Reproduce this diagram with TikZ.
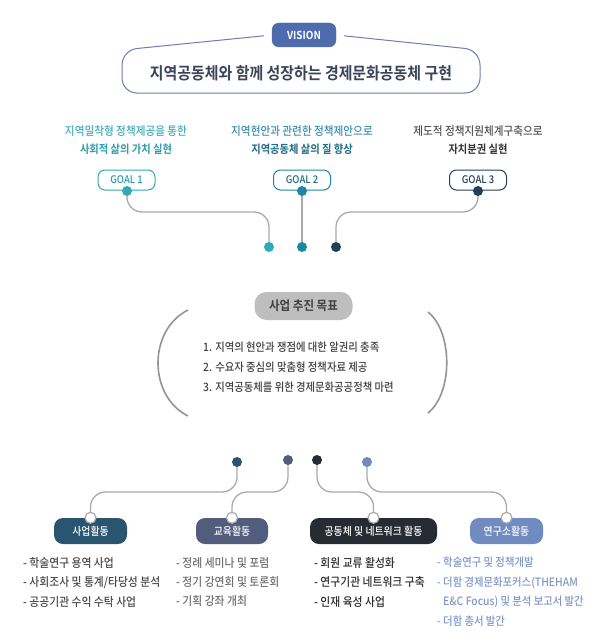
\documentclass[tikz,border=0pt]{standalone}
\usepackage{fontspec}
\setmainfont{Noto Sans CJK KR}[FakeStretch=0.9, UprightFont=* Medium, BoldFont=* Bold]
\usetikzlibrary{backgrounds,calc}
\definecolor{visionblue}{HTML}{4F6BAE}
\definecolor{visionline}{HTML}{6A7FAF}
\definecolor{titlec}{HTML}{3B4459}
\definecolor{goalAa}{HTML}{45AEBB}
\definecolor{goalAb}{HTML}{2C9DAB}
\definecolor{goalAc}{HTML}{33A8B6}
\definecolor{goalBa}{HTML}{3C8FB0}
\definecolor{goalBb}{HTML}{1E6C88}
\definecolor{goalBc}{HTML}{1E87A5}
\definecolor{goalCa}{HTML}{555555}
\definecolor{goalCb}{HTML}{333333}
\definecolor{goalCc}{HTML}{243F58}
\definecolor{connc}{HTML}{AAAAAA}
\definecolor{midfill}{HTML}{BEBEBE}
\definecolor{actA}{HTML}{2A5570}
\definecolor{actB}{HTML}{525C7C}
\definecolor{actC}{HTML}{272B33}
\definecolor{actD}{HTML}{6F8BC0}
\definecolor{txtA}{HTML}{4A4A4A}
\definecolor{txtB}{HTML}{707070}
\definecolor{txtC}{HTML}{2E2E2E}
\definecolor{txtD}{HTML}{8098C8}
\tikzset{
  visionpill/.style={fill=visionblue, draw=visionblue, rounded corners=7pt, minimum width=64pt, minimum height=24pt, inner sep=0pt, text=white, font=\fontsize{11}{12}\selectfont\bfseries},
  goaltxt/.style={inner sep=0pt, font=\fontsize{11.8}{13}\selectfont},
  goalbold/.style={inner sep=0pt, font=\fontsize{11.4}{13}\selectfont\bfseries},
  goalpill/.style={fill=white, line width=1pt, rounded corners=7pt, minimum width=57pt, minimum height=20pt, inner sep=0pt, font=\fontsize{10.5}{11}\selectfont},
  gdot/.style={circle, minimum size=10pt, inner sep=0pt},
  conn/.style={draw=connc, line width=1.3pt, rounded corners=15pt},
  midpill/.style={fill=midfill, rounded corners=12pt, minimum width=98pt, minimum height=28pt, inner sep=0pt, text=black!75, font=\fontsize{12.8}{14}\selectfont\bfseries},
  listtxt/.style={inner sep=0pt, anchor=west, text=black!74, font=\fontsize{11.5}{13}\selectfont},
  actpill/.style={rounded corners=9pt, minimum height=26pt, inner sep=0pt, text=white, font=\fontsize{11}{12}\selectfont},
  ring/.style={circle, fill=white, draw=connc, line width=1.2pt, minimum size=11pt, inner sep=0pt},
  bullets/.style={inner sep=0pt, anchor=north west, align=left, font=\fontsize{12}{19.4}\selectfont},
}
\begin{document}
\begin{tikzpicture}[x=1pt,y=-1pt]
\begin{scope}[on background layer]
\fill[white] (0,0) rectangle (600,642);
\end{scope}
\useasboundingbox (0,0) rectangle (600,642);
% ---- vision ----
\node[visionpill] (vision) at (304,35) {VISION};
\draw[draw=visionline, line width=1pt, rounded corners=15pt, shorten <=8pt, shorten >=8pt]
  (vision.west) -- (122,50) -- (122,93) -- (480,93) -- (480,50) -- (vision.east);
\node[inner sep=0pt, text=titlec, font=\fontsize{16.6}{18}\selectfont\bfseries] (title) at (301,73) {지역공동체와 함께 성장하는 경제문화공동체 구현};
% ---- goals ----
\node[goaltxt, text=goalAa] (g1a) at (126,131) {지역밀착형 정책제공을 통한};
\node[goalbold, text=goalAb] (g1b) at (126,149) {사회적 삶의 가치 실현};
\node[goaltxt, text=goalBa] (g2a) at (302,131) {지역현안과 관련한 정책제안으로};
\node[goalbold, text=goalBb] (g2b) at (302,149) {지역공동체 삶의 질 향상};
\node[goaltxt, text=goalCa] (g3a) at (478,131) {제도적 정책지원체계구축으로};
\node[goalbold, text=goalCb] (g3b) at (478,149) {자치분권 실현};
\node[goalpill, draw=goalAc, text=goalAb] (G1) at (126.5,180) {GOAL 1};
\node[goalpill, draw=goalBc, text=goalBb] (G2) at (302,180) {GOAL 2};
\node[goalpill, draw=goalCc, text=goalCc] (G3) at (478,180) {GOAL 3};
\node[gdot, fill=goalAc] (d1) at (127,191) {};
\node[gdot, fill=goalBc] (d2) at (302,191) {};
\node[gdot, fill=goalCc] (d3) at (478,191) {};
\node[gdot, fill=goalAc] (e1) at (269,247) {};
\node[gdot, fill=goalBc] (e2) at (302,247) {};
\node[gdot, fill=goalCc] (e3) at (336,247) {};
\coordinate (hA) at (0,212);
\begin{scope}[on background layer]
\draw[conn] (d1.center) |- (hA -| e1) -- (e1.center);
\draw[conn] (d2.center) -- (e2.center);
\draw[conn] (d3.center) |- (hA -| e3) -- (e3.center);
\end{scope}
% ---- middle ----
\node[midpill] (mid) at (303.5,306) {사업 추진 목표};
\coordinate (lt) at (188,310);
\coordinate (lb) at (188,416);
\coordinate (rt) at (428,312);
\coordinate (rb) at (428,413);
\draw[draw=black!42, line width=1.6pt] (lt) .. controls (148,330) and (148,396) .. (lb);
\draw[draw=black!42, line width=1.6pt] (rt) .. controls (453,332) and (453,393) .. (rb);
\node[listtxt] (l1) at (203,347) {1. 지역의 현안과 쟁점에 대한 알권리 충족};
\node[listtxt] (l2) at (203,367) {2. 수요자 중심의 맞춤형 정책자료 제공};
\node[listtxt] (l3) at (203,387) {3. 지역공동체를 위한 경제문화공공정책 마련};
% ---- activities ----
\node[gdot, fill=actA] (b1) at (237,462) {};
\node[gdot, fill=actB] (b2) at (288,460) {};
\node[gdot, fill=actC] (b3) at (317,460) {};
\node[gdot, fill=actD] (b4) at (367,462) {};
\node[actpill, fill=actA, minimum width=73pt] (p1) at (90.5,531) {사업활동};
\node[actpill, fill=actB, minimum width=72pt] (p2) at (232,531) {교육활동};
\node[actpill, fill=actC, minimum width=127pt] (p3) at (373.5,531) {공동체 및 네트워크 활동};
\node[actpill, fill=actD, minimum width=73pt] (p4) at (506.5,531) {연구소활동};
\node[ring] (r1) at (p1.north) {};
\node[ring] (r2) at (p2.north) {};
\node[ring] (r3) at (p3.north) {};
\node[ring] (r4) at (p4.north) {};
\coordinate (hB) at (0,492);
\begin{scope}[on background layer]
\draw[conn] (b1.center) |- (hB -| r1) -- (r1.center);
\draw[conn] (b2.center) |- (hB -| r2) -- (r2.center);
\draw[conn] (b3.center) |- (hB -| r3) -- (r3.center);
\draw[conn] (b4.center) |- (hB -| r4) -- (r4.center);
\end{scope}
% ---- bullet lists ----
\node[bullets, text=txtA] (t1) at (23,557) {- 학술연구 용역 사업\\- 사회조사 및 통계/타당성 분석\\- 공공기관 수익 수탁 사업};
\node[bullets, text=txtB] (t2) at (176,557) {- 정례 세미나 및 포럼\\- 정기 강연회 및 토론회\\- 기획 강좌 개최};
\node[bullets, text=txtC] (t3) at (314,557) {- 회원 교류 활성화\\- 연구기관 네트워크 구축\\- 인재 육성 사업};
\node[bullets, text=txtD, font=\fontsize{11.5}{19.4}\selectfont] (t4) at (437,557) {- 학술연구 및 정책개발\\- 더함 경제문화포커스(THEHAM\\\phantom{- }E\&C Focus) 및 분석 보고서 발간\\- 더함 총서 발간};
\end{tikzpicture}
\end{document}
